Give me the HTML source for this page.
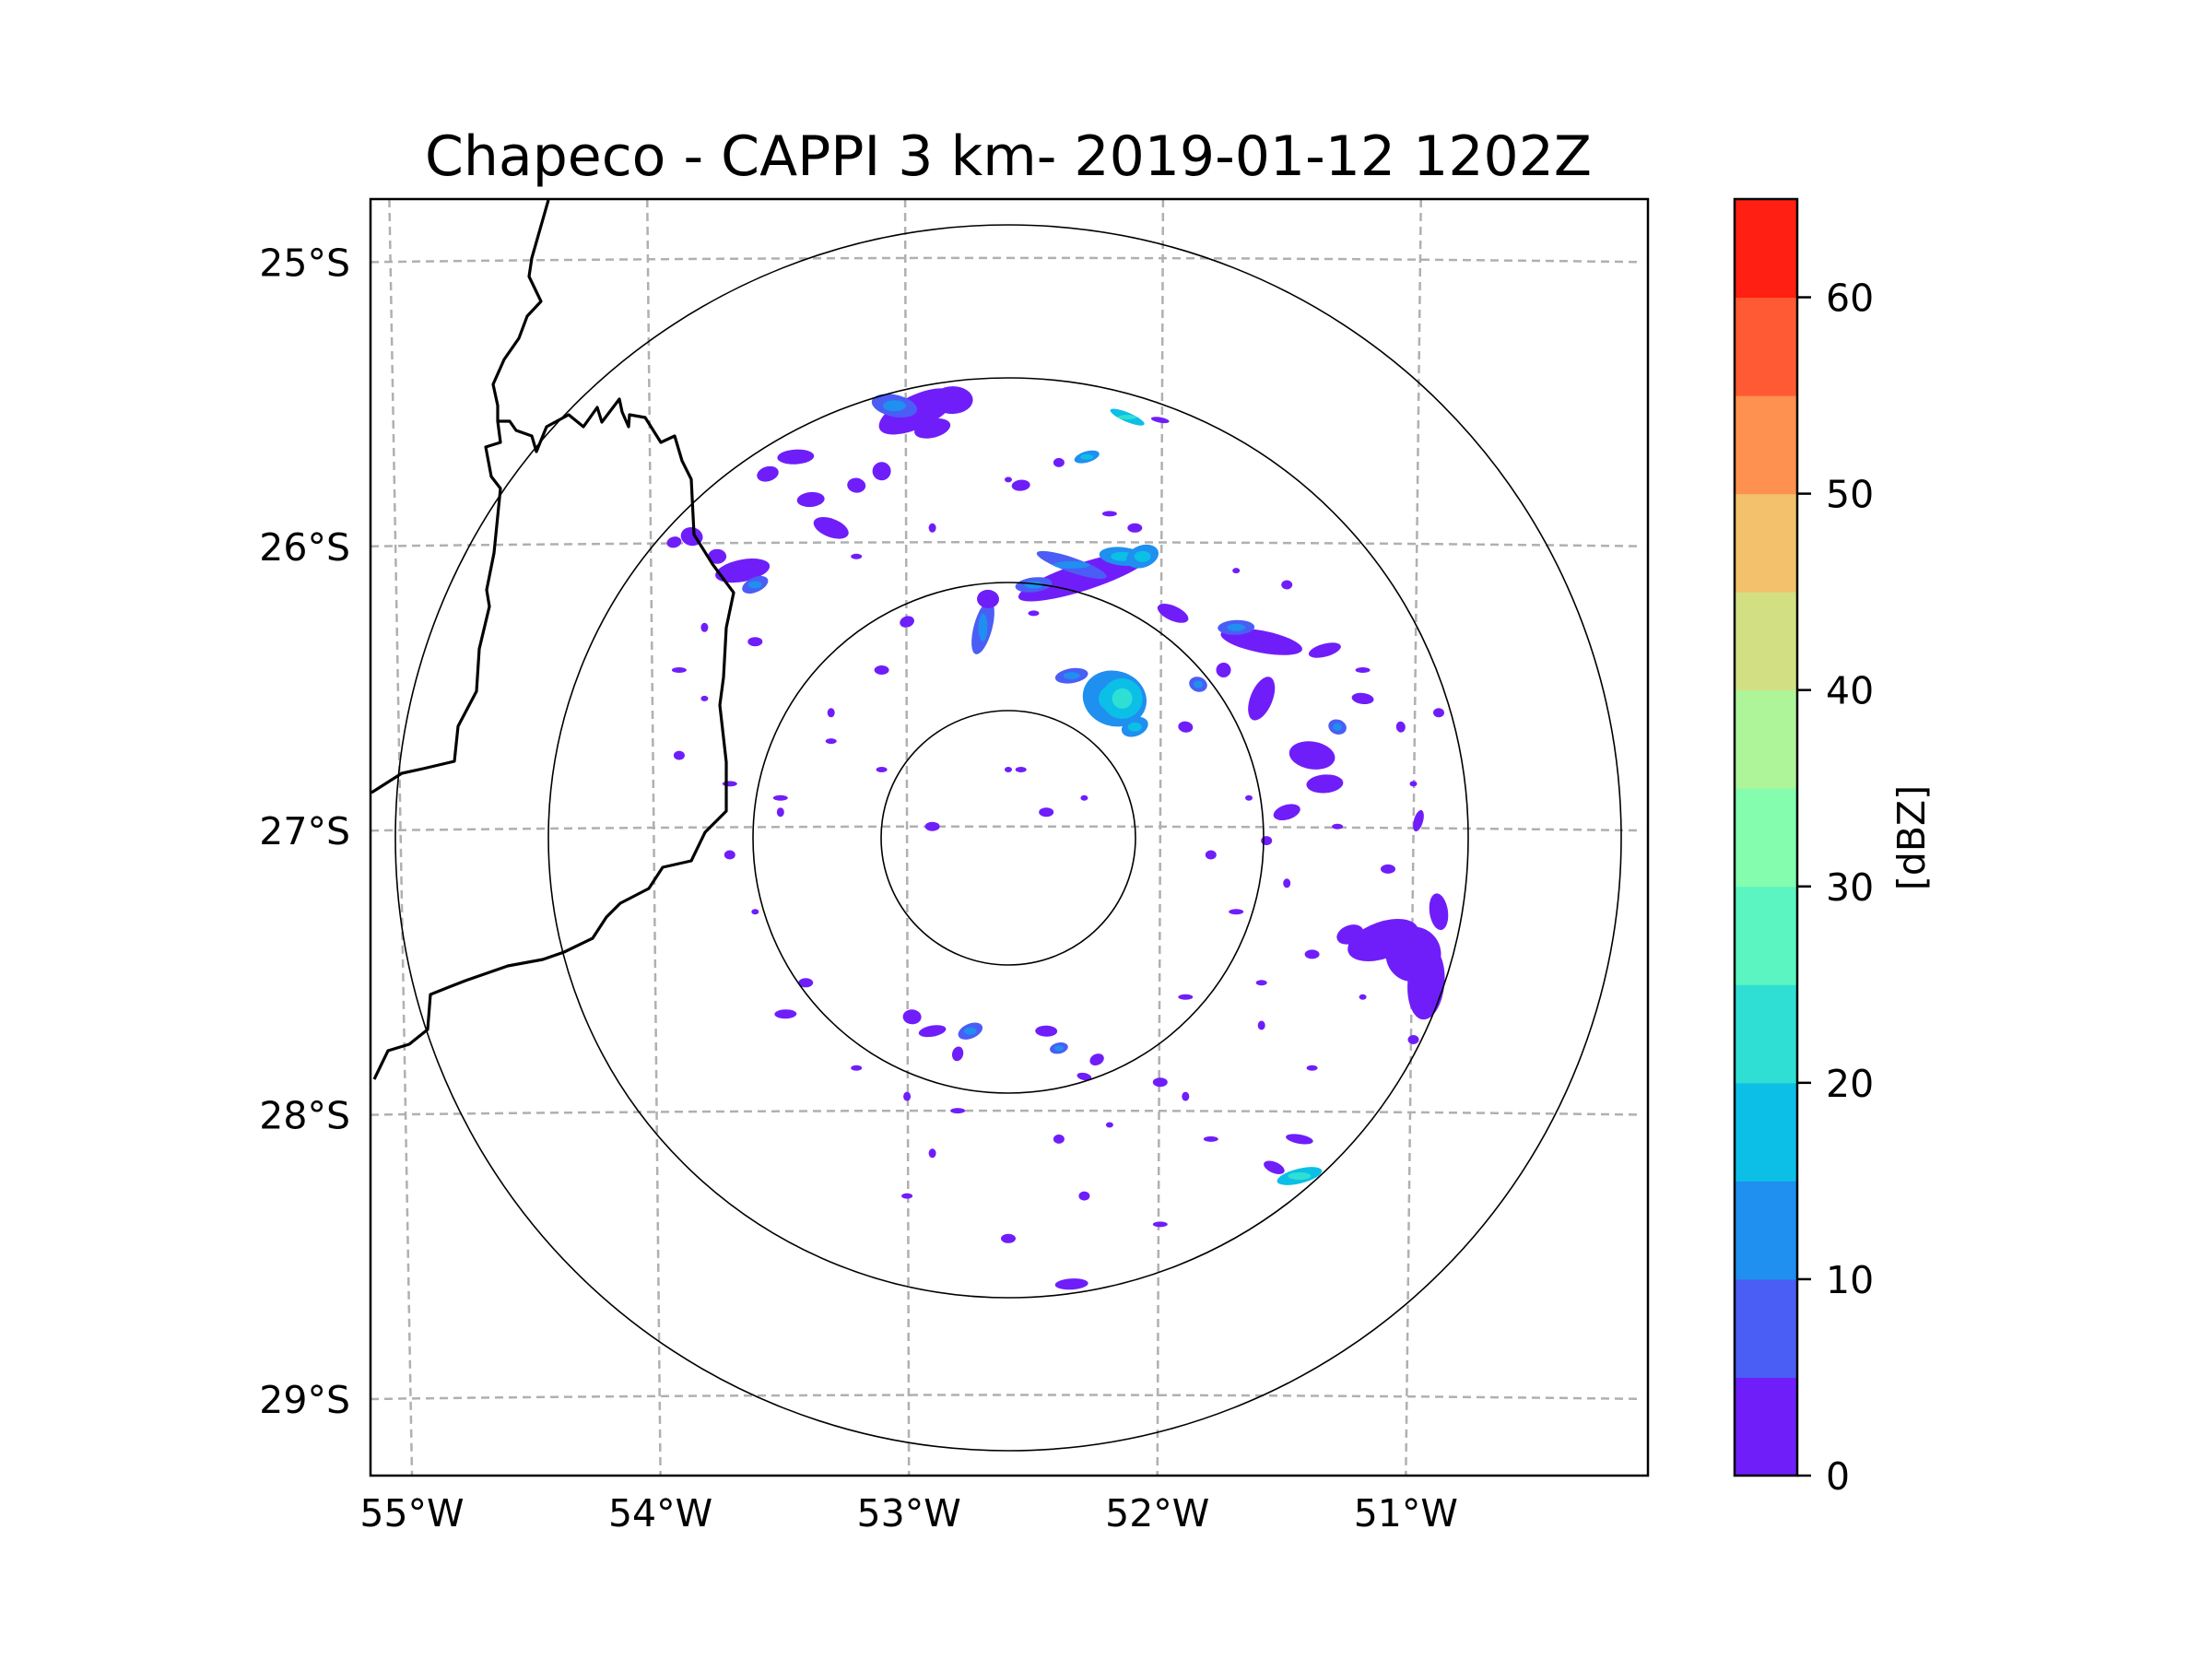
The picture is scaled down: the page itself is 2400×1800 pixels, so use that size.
<!DOCTYPE html>
<html><head><meta charset="utf-8"><style>
html,body{margin:0;padding:0;background:#fff;}
svg{display:block;font-family:"DejaVu Sans","Liberation Sans",sans-serif;}
</style></head><body>
<svg id="fig" width="2400" height="1800" viewBox="0 0 2400 1800" xmlns="http://www.w3.org/2000/svg">
<defs><clipPath id="axclip"><rect x="402" y="216" width="1386" height="1385"/></clipPath></defs>
<rect width="2400" height="1800" fill="#fff"/>
<text x="1094" y="190" font-size="60" text-anchor="middle">Chapeco - CAPPI 3 km- 2019-01-12 1202Z</text>
<g id="plot" clip-path="url(#axclip)"></g>
<rect x="402" y="216" width="1386" height="1385" fill="none" stroke="#000" stroke-width="2.5"/>
<g id="ylabels"></g>
<g id="xlabels"></g>
<g id="cbar"></g>
<text transform="translate(2088,909) rotate(-90)" font-size="41" text-anchor="middle">[dBZ]</text>
</svg>
<script>
const latTicks=[-25,-26,-27,-28,-29];
const latLabels=["25°S","26°S","27°S","28°S","29°S"];
const lonTicks=[-55,-54,-53,-52,-51];
const lonLabels=["55°W","54°W","53°W","52°W","51°W"];
const ringRadii=[138,277,499,665];
const cbarLevels=[0,5,10,15,20,25,30,35,40,45,50,55,60,65];
const cbarTicks=[0,10,20,30,40,50,60];
const cbarColors=["#6f1efa","#4a5ef5","#1f8ff0","#0bbfe6","#2fdfd4","#5af5c0","#84fdae","#aef59a","#d2e083","#f3c06c","#fe914f","#ff5a33","#ff1f13"];
// echo blobs: lon, lat, rx, ry, dBZ
const echoLon=[-52.96,-53.05,-52.82,-52.90,-52.13,-52.0,-53.44,-53.55,-53.30,-53.20,-53.38,-52.30,-52.35,-52.15,-52.5,-52.07,-52.18,-52.15,-52.35,-52.10,-52.70,-52.68,-53.65,-53.60,-53.85,-53.75,-53.92,-51.95,-51.60,-51.70,-51.35,-51.60,-51.40,-51.35,-51.5,-51.30,-51.2,-51.05,-51.12,-51.00,-50.95,-50.90,-51.25,-50.98,-52.98,-52.90,-52.75,-52.80,-52.45,-52.40,-52.25,-52.3,-53.48,-51.45,-51.55,-51.45,-52.35,-52.29,-53.10,-51.9,-52.55,-53.0,-51.85,-51.75];
const echoLat=[-25.54,-25.52,-25.50,-25.60,-25.56,-25.57,-25.70,-25.76,-25.95,-25.80,-25.85,-26.12,-26.08,-26.05,-26.15,-26.05,-26.55,-26.55,-26.47,-26.65,-26.30,-26.20,-26.10,-26.15,-25.98,-26.05,-26.0,-26.25,-26.35,-26.30,-26.38,-26.55,-26.75,-26.85,-26.95,-26.65,-26.55,-26.65,-27.40,-27.45,-27.55,-27.30,-27.38,-26.98,-27.67,-27.72,-27.72,-27.80,-27.72,-27.78,-27.82,-27.88,-27.66,-28.23,-28.20,-28.10,-28.61,-25.70,-25.75,-26.65,-25.80,-26.28,-26.50,-26.45];
const echoRx=[45,25,22,20,20,10,20,12,20,10,15,75,40,25,20,18,35,22,18,15,10,12,30,15,12,10,8,18,45,20,18,12,25,20,15,10,12,5,40,30,20,10,15,5,10,15,14,6,12,10,8,8,12,25,12,15,18,14,10,8,10,8,10,8];
const echoRy=[18,12,15,10,5,3,8,8,10,8,8,15,8,10,8,12,30,22,8,10,30,10,12,8,10,8,6,8,12,8,7,25,15,10,8,8,6,6,20,30,40,20,10,12,8,6,8,8,6,6,6,4,5,8,6,5,6,6,10,6,6,6,8,8];
const echoDbz=[3,8,3,3,15,3,3,3,3,3,3,3,8,12,8,12,10,18,8,12,8,3,3,8,3,3,3,3,3,8,3,3,3,3,3,8,3,3,0,0,0,0,0,0,3,3,8,3,3,8,3,3,3,15,3,3,3,10,3,3,3,3,8,3];
// scattered specks: lon, lat
const speckLon=[-52.6,-52.4,-52.2,-52.9,-53.2,-53.6,-53.8,-53.9,-53.7,-53.5,-53.3,-53.1,-52.3,-51.8,-51.7,-51.5,-51.3,-51.1,-51.0,-50.9,-51.9,-51.6,-51.4,-52.0,-52.2,-52.4,-52.8,-53.0,-53.2,-53.4,-53.6,-53.7,-53.5,-52.7,-52.5,-52.1,-51.7,-51.5,-51.2,-53.3,-53.1,-52.9,-52.6,-52.3,-52.0,-51.9,-51.6,-51.4,-51.2,-51.0,-53.9,-53.8,-52.55,-52.45,-51.65,-51.58,-51.8,-52.9,-53.0,-52.6];
const speckLat=[-25.78,-25.72,-25.90,-25.95,-26.05,-26.35,-26.55,-26.75,-26.85,-26.95,-26.7,-26.45,-26.9,-27.1,-27.3,-27.2,-27.0,-27.15,-26.85,-26.6,-27.6,-27.7,-27.85,-27.9,-28.05,-28.1,-28.0,-27.95,-27.85,-27.55,-27.3,-27.1,-26.9,-26.2,-26.25,-25.95,-26.1,-26.15,-26.45,-26.6,-26.8,-27.0,-26.8,-28.3,-28.4,-27.95,-27.55,-27.45,-27.6,-27.75,-26.45,-26.3,-26.8,-26.95,-26.9,-27.05,-28.1,-28.15,-28.3,-28.45];

const NS="http://www.w3.org/2000/svg";
const CX=1094, CY=909, LON0=-52.6, LAT0=-27.04, PX_LON=274.7, PX_LAT=308.4;
function lonToX(lon,y){return CX+(lon-LON0)*PX_LON+(-0.0074*(lon-LON0))*((y===undefined?CY:y)-CY);}
function latToY(lat,x){const u=((x===undefined?CX:x)-CX)/693;return CY-(lat-LAT0)*PX_LAT+4.5*u*u;}
function el(tag,attrs,parent){const e=document.createElementNS(NS,tag);for(const k in attrs)e.setAttribute(k,attrs[k]);parent.appendChild(e);return e;}
function colorFor(v){let i=Math.floor(v/5);if(i<0)i=0;if(i>12)i=12;return cbarColors[i];}

const plot=document.getElementById('plot');
latTicks.forEach((lat,i)=>{
  let d="";for(let x=402;x<=1788;x+=20){d+=(x===402?"M":"L")+x+","+latToY(lat,x).toFixed(1);}
  const p=el('path',{d:d,fill:'none',stroke:'#b0b0b0','stroke-width':2.5,'stroke-dasharray':'9,6'},plot);
  
  
});
lonTicks.forEach((lon,i)=>{
  const p=el('line',{x1:lonToX(lon,216),y1:216,x2:lonToX(lon,1601),y2:1601,stroke:'#b0b0b0','stroke-width':2.5,'stroke-dasharray':'9,6'},plot);
  
  
});
for(let i=0;i<echoLon.length;i++){
  const x=lonToX(echoLon[i]),y=latToY(echoLat[i]);
  const e=el('ellipse',{cx:x.toFixed(1),cy:y.toFixed(1),rx:echoRx[i],ry:echoRy[i],fill:colorFor(echoDbz[i]),transform:'rotate('+((i*37)%50-25)+' '+x.toFixed(1)+' '+y.toFixed(1)+')'},plot);
  
  
  if(echoDbz[i]>=8){
    const c=el('ellipse',{cx:x.toFixed(1),cy:y.toFixed(1),rx:echoRx[i]*0.5,ry:echoRy[i]*0.5,fill:colorFor(echoDbz[i]+5)},plot);
    
    
  }
}
for(let i=0;i<speckLon.length;i++){
  const s=el('ellipse',{cx:lonToX(speckLon[i]).toFixed(1),cy:latToY(speckLat[i]).toFixed(1),rx:4+(i%3)*2,ry:3+(i%2)*2,fill:'#6f1efa'},plot);
  
  
}
ringRadii.forEach(r=>{
  const c=el('circle',{cx:CX,cy:CY,r:r,fill:'none',stroke:'#000','stroke-width':1.6},plot);
  
  
});
const b1="M595,217 L577,280 L574,300 L587,327 L572,343 L563,367 L547,390 L535,417 L540,440 L540,457 L543,480 L527,485 L533,517 L543,530 L538,580 L536,600 L528,640 L531,658 L520,704 L517,750 L497,788 L493,826 L459,834 L436,839 L403,860";
const b2="M540,457 L553,457 L560,467 L577,473 L582,490 L593,463 L617,450 L633,463 L648,442 L653,458 L672,433 L675,447 L682,463 L683,450 L700,453 L717,480 L732,473 L740,500 L750,520 L753,580 L773,612 L796,643 L788,681 L785,735 L781,765 L788,827 L788,880 L765,903 L750,934 L719,941 L704,964 L673,980 L658,995 L643,1018 L612,1033 L589,1041 L551,1048 L528,1056 L505,1064 L487,1071 L467,1079 L464,1117 L444,1133 L421,1140 L406,1171";
[b1,b2].forEach(d=>{
  const p=el('path',{d:d,fill:'none',stroke:'#000','stroke-width':3.2,'stroke-linejoin':'round'},plot);
  
  
});
const yl=document.getElementById('ylabels');
latTicks.forEach((lat,i)=>{
  const t=el('text',{x:380,y:latToY(lat,402)+15,'font-size':41,'text-anchor':'end'},yl);
  t.textContent=latLabels[i];
  
  
});
const xl=document.getElementById('xlabels');
lonTicks.forEach((lon,i)=>{
  const t=el('text',{x:lonToX(lon,1601),y:1656,'font-size':41,'text-anchor':'middle'},xl);
  t.textContent=lonLabels[i];
  
  
});
const cb=document.getElementById('cbar');
const CB_BOT=1601,CB_TOP=216,CBX=1882,CBW=68;
function vToY(v){return CB_BOT-(v-cbarLevels[0])/(cbarLevels[cbarLevels.length-1]-cbarLevels[0])*(CB_BOT-CB_TOP);}
for(let i=0;i<cbarColors.length;i++){
  const y1=vToY(cbarLevels[i+1]),y0=vToY(cbarLevels[i]);
  const r=el('rect',{x:CBX,y:y1,width:CBW,height:y0-y1+0.5,fill:cbarColors[i]},cb);
  
  
}
const fr=el('rect',{x:CBX,y:CB_TOP,width:CBW,height:CB_BOT-CB_TOP,fill:'none',stroke:'#000','stroke-width':2.5},cb);


cbarTicks.forEach(v=>{
  const y=vToY(v);
  const tk=el('line',{x1:CBX+CBW,y1:y,x2:CBX+CBW+15,y2:y,stroke:'#000','stroke-width':2.5},cb);
  
  
  const t=el('text',{x:1981,y:y+15,'font-size':41},cb);
  t.textContent=String(v);
  
  
});
</script>
</body></html>
